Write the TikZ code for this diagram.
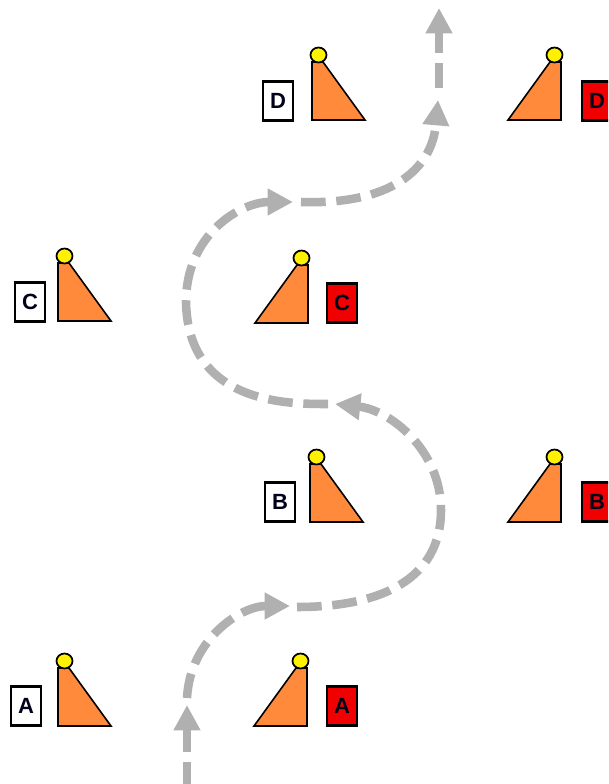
\documentclass[tikz,border=0pt]{standalone}
\usepackage{fontspec}
\setmainfont{Liberation Sans}
\usetikzlibrary{arrows.meta}
\definecolor{pathgray}{HTML}{B0B0B0}
\definecolor{bodyorange}{HTML}{FF8A3C}
\definecolor{signred}{HTML}{F00000}
\tikzset{
  x=0.75pt, y=-0.75pt,
  body/.style={draw=black, fill=bodyorange, line width=1.2pt, line join=miter},
  headdot/.style={draw=black, fill=yellow, line width=1.3pt},
  sign/.style={draw=black, line width=1.8pt, minimum width=22.5pt, minimum height=29.5pt, inner sep=0pt, font=\bfseries\fontsize{16.5}{16.5}\selectfont, text=black!90!blue},
  whitesign/.style={sign, fill=white},
  redsign/.style={sign, fill=signred},
  route/.style={draw=pathgray, line width=6.4pt, dash pattern=on 18.5pt off 8pt, -{Triangle[width=19pt,length=19pt,fill=pathgray]}},
}
% figure facing right: #1 = left end of base, #2 = base y
\newcommand{\figR}[2]{%
  \filldraw[body] (#1,#2) -- (#1+53,#2) -- (#1+11,#2-58) -- (#1,#2-58) -- cycle;
  \draw[headdot] (#1+6.5,#2-65) ellipse [x radius=8, y radius=7.5];
}
% figure facing left: #1 = right end of base, #2 = base y
\newcommand{\figL}[2]{%
  \filldraw[body] (#1,#2) -- (#1-53,#2) -- (#1-11,#2-58) -- (#1,#2-58) -- cycle;
  \draw[headdot] (#1-6.5,#2-65) ellipse [x radius=8, y radius=7.5];
}
\begin{document}
\begin{tikzpicture}
\clip (0,0) rectangle (608,784);
\fill[white] (0,0) rectangle (608,784);

% figures
\figR{312}{120}
\figL{561}{120}
\figR{58}{321}
\figL{308}{323}
\figR{310}{522}
\figL{561}{522}
\figR{58}{726}
\figL{307}{726}

% signs
\node[whitesign] (d1) at (278,101) {D};
\node[redsign]   (d2) at (597,101) {D};
\node[whitesign] (c1) at (30,302) {C};
\node[redsign]   (c2) at (342,303) {C};
\node[whitesign] (b1) at (280,502) {B};
\node[redsign]   (b2) at (597,502) {B};
\node[whitesign] (a1) at (26,706) {A};
\node[redsign]   (a2) at (342,706) {A};

% route way points
\coordinate (s0) at (187,787);
\coordinate (t1) at (187,705);
\coordinate (s2) at (187,698);
\coordinate (t2) at (290,606);
\coordinate (s3) at (297,607);
\coordinate (m3) at (441,510);
\coordinate (t3) at (335,404);
\coordinate (s4) at (328,404);
\coordinate (m4) at (186,302);
\coordinate (t4) at (293,202);
\coordinate (s5) at (301,202);
\coordinate (t5) at (438,100);
\coordinate (s6) at (439,88);
\coordinate (t6) at (439,8);

% route
\draw[route] (s0) -- (t1);
\draw[route] (s2) .. controls (190,640) and (240,606) .. (t2);
\draw[route] (s3) .. controls (380,607) and (441,580) .. (m3)
                  .. controls (441,450) and (390,410) .. (t3);
\draw[route] (s4) .. controls (290,404) and (188,405) .. (m4)
                  .. controls (186,235) and (240,202) .. (t4);
\draw[route] (s5) .. controls (390,205) and (432,170) .. (t5);
\draw[route] (s6) -- (t6);
\end{tikzpicture}
\end{document}
